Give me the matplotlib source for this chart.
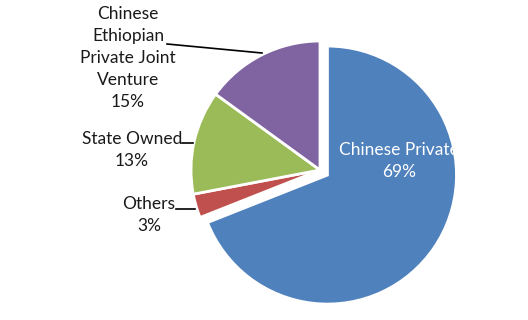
import matplotlib
matplotlib.use("Agg")
import matplotlib.pyplot as plt

categories = ["Chinese Private", "Others", "State Owned", "Chinese Ethiopian\nPrivate Joint\nVenture"]
values = [69, 3, 13, 15]
colors = ["#4F81BD", "#C0504D", "#9BBB59", "#8064A2"]
explode_frac = [0.07, 0, 0, 0]

plt.rcParams['font.family'] = ['Lato', 'DejaVu Sans']

fig = plt.figure(figsize=(5.28, 3.20), dpi=100)
ax = fig.add_axes([0, 0, 1, 1])

H = 320
cx, cy, r = 320, H - 170, 129
# matplotlib's explode is in data units -> scale by radius
explode = [e * r for e in explode_frac]
wedges, _ = ax.pie(values, colors=colors, startangle=90, counterclock=False,
                   explode=explode, center=(cx, cy), radius=r, frame=True,
                   wedgeprops=dict(edgecolor='white', linewidth=2))
ax.set_xlim(0, 528)
ax.set_ylim(0, 320)
ax.set_aspect('equal')
ax.axis('off')

fs = 12.5
ls = 1.46
tc = '#1a1a1a'
# Chinese Private label inside
ax.text(399, H - 161, f"{categories[0]}\n{values[0]}%", color='white', ha='center', va='center',
        fontsize=fs, linespacing=ls)
# Others
ax.text(149, H - 215, f"{categories[1]}\n{values[1]}%", color=tc, ha='center', va='center',
        fontsize=fs, linespacing=ls)
ax.plot([176, 195], [H - 209, H - 209], color='black', lw=1.2)
# State Owned
ax.text(132, H - 150, f"{categories[2]}\n{values[2]}%", color=tc, ha='center', va='center',
        fontsize=fs, linespacing=ls)
ax.plot([182, 193], [H - 143, H - 143], color='black', lw=1.2)
# Chinese Ethiopian
ax.text(128, H - 58, f"Chinese\nEthiopian\nPrivate Joint\nVenture\n{values[3]}%", color=tc,
        ha='center', va='center', fontsize=fs, linespacing=ls)
ax.plot([167, 262], [H - 44, H - 53], color='black', lw=1.2)

fig.savefig("out.png", dpi=100)
